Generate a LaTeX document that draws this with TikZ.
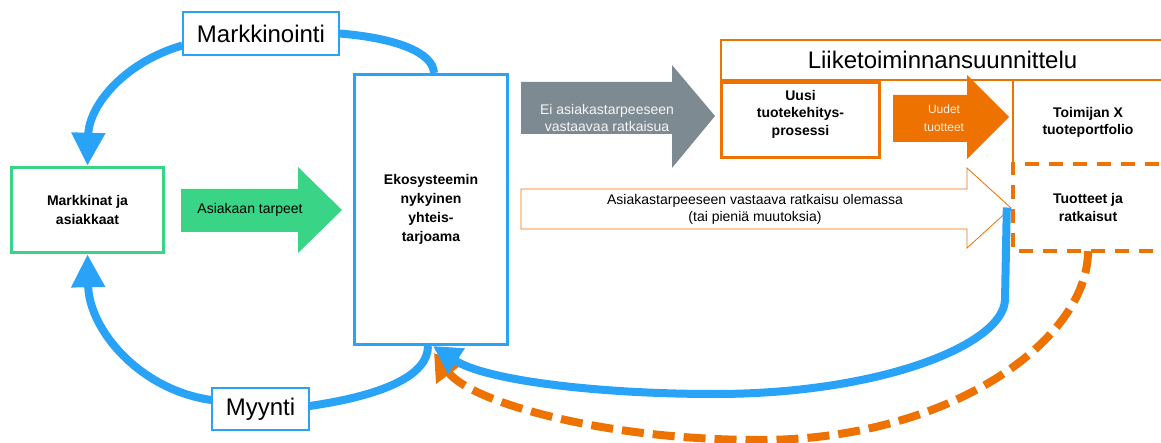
\documentclass[tikz,border=0pt]{standalone}
\usepackage{fontspec}
\setmainfont{Liberation Sans}
\usetikzlibrary{arrows.meta}
\definecolor{cblue}{RGB}{41,163,247}
\definecolor{cgreen}{RGB}{58,212,134}
\definecolor{cgray}{RGB}{126,138,146}
\definecolor{corange}{RGB}{238,114,0}
\begin{document}
\begin{tikzpicture}[x=1pt,y=-1pt,
  lbl/.style={inner sep=0pt, align=center, font=\fontsize{14}{17}\selectfont},
  boldtxt/.style={inner sep=0pt, align=center, font=\fontsize{14}{18}\selectfont\bfseries},
  big/.style={inner sep=0pt, font=\fontsize{24}{28}\selectfont},
  flow/.style={line width=8pt, draw=cblue},
  oflow/.style={line width=8pt, draw=corange, dash pattern=on 22pt off 9pt},
  bighead/.style={-{Triangle[width=32pt,length=33pt]}},
  smallhead/.style={-{Triangle[width=29pt,length=28pt]}},
  ohead/.style={-{Triangle[width=32pt,length=26pt]}},
  dashedge/.style={draw=corange, line width=4pt, dash pattern=on 14pt off 10pt},
]
\useasboundingbox (0,0) rectangle (1161,443);
\clip (0,0) rectangle (1161,443);

% block arrows
\fill[cgreen] (181,189) -- (298,189) -- (298,167) -- (342,210) -- (298,253) -- (298,232) -- (181,232) -- cycle;
\node[lbl] (tarp) at (250,210) {Asiakaan tarpeet};

\fill[cgray] (521,82) -- (672,82) -- (672,65) -- (715,116) -- (672,168) -- (672,134) -- (521,134) -- cycle;
\node[lbl, text=white!92!cgray] (eiratk) at (607,118) {Ei asiakastarpeeseen\\vastaavaa ratkaisua};

\fill[corange] (893,95) -- (967,95) -- (967,75) -- (1009,117) -- (967,159) -- (967,142) -- (893,142) -- cycle;
\node[lbl, font=\fontsize{12}{18}\selectfont, text=white!88!corange] (uudet) at (944,118) {Uudet\\tuotteet};

\draw[corange, line width=0.8pt, fill=white] (521,189) -- (967,189) -- (967,168) -- (1011,208) -- (967,248) -- (967,229) -- (521,229) -- cycle;
\node[lbl] (olem) at (755,209) {Asiakastarpeeseen vastaava ratkaisu olemassa\\(tai pieniä muutoksia)};

% boxes
\node[draw=cblue, line width=1.3pt, fill=white, minimum width=156pt, minimum height=43pt, big] (mkt) at (261,33.5) {Markkinointi};
\node[draw=cblue, line width=1.3pt, fill=white, minimum width=97pt, minimum height=42pt, big] (myy) at (260.5,409) {Myynti};
\node[draw=cgreen, line width=3.5pt, fill=white, minimum width=152pt, minimum height=85pt, boldtxt, font=\fontsize{14}{19}\selectfont\bfseries] (mja) at (87.5,210) {Markkinat ja\\asiakkaat};
\node[draw=cblue, line width=3pt, fill=white, minimum width=153pt, minimum height=270pt, boldtxt, font=\fontsize{14}{19}\selectfont\bfseries] (eko) at (431,209.5) {Ekosysteemin\\nykyinen\\yhteis-\\tarjoama};

\node[draw=corange, line width=2pt, minimum width=463pt, minimum height=40pt, inner sep=0pt] (liike) at (952.5,60) {};
\node[big] (liiket) at (942.5,60) {Liiketoiminnansuunnittelu};
\node[draw=corange, line width=3pt, fill=white, minimum width=158pt, minimum height=75pt] (uusi) at (800.5,120) {};
\node[boldtxt, font=\fontsize{14}{17.5}\selectfont\bfseries] (uusit) at ([yshift=6pt]uusi.center) {Uusi\\tuotekehitys-\\prosessi};

\node[minimum width=150pt, minimum height=83pt, boldtxt, font=\fontsize{14}{17.5}\selectfont\bfseries] (toim) at (1088,122.5) {Toimijan X\\tuoteportfolio};
\node[minimum width=150pt, minimum height=87pt, boldtxt] (tuot) at (1088,207.5) {Tuotteet ja\\ratkaisut};
\draw[corange, line width=2.5pt] (toim.north west) -- (toim.south west);
\draw[dashedge] ([xshift=20pt]tuot.north east) -- (tuot.north west) -- (tuot.south west) -- ([xshift=20pt]tuot.south east);

% connectors
\draw[flow] ([xshift=3pt]eko.north) .. controls (433,52) and (395,38) .. (mkt.east);
\draw[flow, bighead] ([yshift=-12pt]mkt.west) .. controls (125,62) and (89,105) .. (mja.north);
\draw[flow, bighead] ([yshift=9pt]myy.west) .. controls (140,390) and (89,330) .. (mja.south);
\draw[flow] ([yshift=3pt]myy.east) .. controls (385,395) and (428,375) .. ([xshift=-3pt]eko.south);

\draw[oflow, ohead] (tuot.south) .. controls (1088,340) and (950,440) .. (760,440) .. controls (600,440) and (470,401) .. (434,353);
\draw[flow, smallhead] ([xshift=-6pt]tuot.west) -- (1005,300) .. controls (1003,345) and (880,394) .. (715,394) .. controls (595,394) and (485,380) .. ([xshift=2pt]eko.south);
\end{tikzpicture}
\end{document}
